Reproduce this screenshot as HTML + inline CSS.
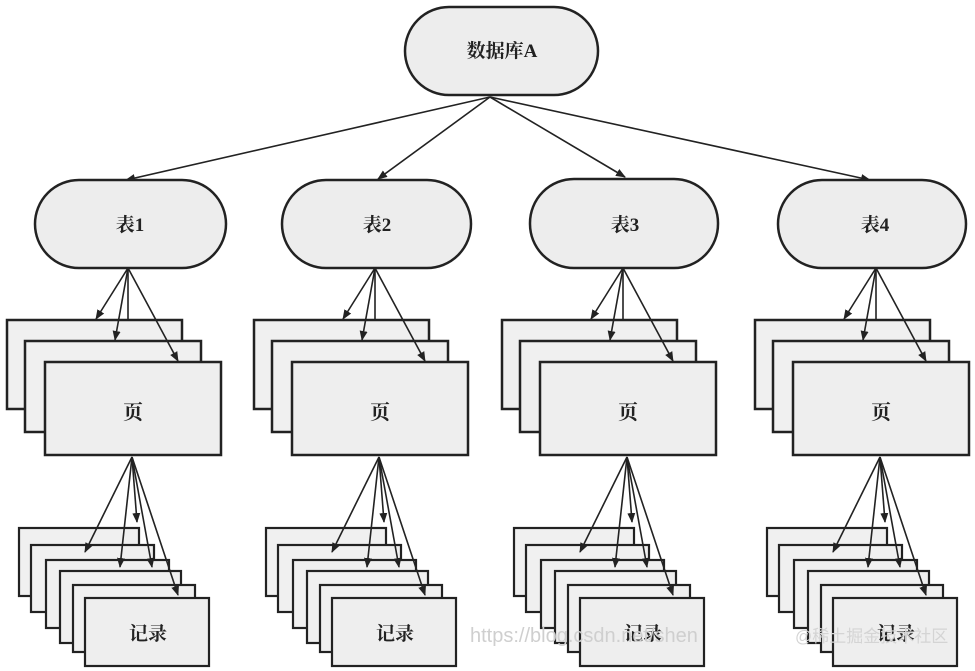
<!DOCTYPE html>
<html><head><meta charset="utf-8"><style>
html,body{margin:0;padding:0;background:#fff;}
svg{display:block;}
text{font-family:"Liberation Serif","Noto Serif CJK SC",serif;font-weight:bold;fill:#222;}
</style></head><body>
<svg width="975" height="671" viewBox="0 0 975 671" xmlns="http://www.w3.org/2000/svg">
<defs>
<marker id="a" markerWidth="10" markerHeight="10" refX="9" refY="5" orient="auto" markerUnits="userSpaceOnUse">
<path d="M0,1 L10,5 L0,9 Z" fill="#222"/></marker>
<g id="grp">
  <rect x="7" y="320" width="175" height="89" fill="#f0f0f0" stroke="#222" stroke-width="2.5"/>
  <rect x="25" y="341" width="176" height="91" fill="#f0f0f0" stroke="#222" stroke-width="2.5"/>
  <rect x="45" y="362" width="176" height="93" fill="#eeeeee" stroke="#222" stroke-width="2.5"/>
  <text x="133" y="419" font-size="20" text-anchor="middle">页</text>
  <g stroke="#222" stroke-width="1.6" fill="none">
    <line x1="128" y1="268" x2="96" y2="319" marker-end="url(#a)"/>
    <line x1="128" y1="268" x2="115" y2="340" marker-end="url(#a)"/>
    <line x1="128" y1="268" x2="128" y2="320"/>
    <line x1="128" y1="268" x2="178" y2="361" marker-end="url(#a)"/>
  </g>
  <rect x="19" y="528" width="120" height="68" fill="#f0f0f0" stroke="#222" stroke-width="2.2"/>
  <rect x="31" y="545" width="123" height="67" fill="#f0f0f0" stroke="#222" stroke-width="2.2"/>
  <rect x="46" y="560" width="123" height="68" fill="#f0f0f0" stroke="#222" stroke-width="2.2"/>
  <rect x="60" y="571" width="121" height="72" fill="#f0f0f0" stroke="#222" stroke-width="2.2"/>
  <rect x="73" y="585" width="122" height="67" fill="#f0f0f0" stroke="#222" stroke-width="2.2"/>
  <rect x="85" y="598" width="124" height="68" fill="#eeeeee" stroke="#222" stroke-width="2.2"/>
  <text x="148" y="640" font-size="19" text-anchor="middle">记录</text>
  <g stroke="#222" stroke-width="1.6" fill="none">
    <line x1="132" y1="457" x2="85" y2="552" marker-end="url(#a)"/>
    <line x1="132" y1="457" x2="120" y2="567" marker-end="url(#a)"/>
    <line x1="132" y1="457" x2="137" y2="522" marker-end="url(#a)"/>
    <line x1="132" y1="457" x2="152" y2="567" marker-end="url(#a)"/>
    <line x1="132" y1="457" x2="178" y2="595" marker-end="url(#a)"/>
  </g>
</g>
</defs>
<rect x="405" y="7" width="193" height="88" rx="44" fill="#ededed" stroke="#222" stroke-width="2.5"/>
<text x="502" y="57" font-size="19" text-anchor="middle">数据库A</text>
<g stroke="#222" stroke-width="1.6">
  <line x1="490" y1="97" x2="126" y2="180" marker-end="url(#a)"/>
  <line x1="490" y1="97" x2="378" y2="179" marker-end="url(#a)"/>
  <line x1="490" y1="97" x2="625" y2="177" marker-end="url(#a)"/>
  <line x1="490" y1="97" x2="870" y2="180" marker-end="url(#a)"/>
</g>
<use href="#grp" x="0"/>
<use href="#grp" x="247"/>
<use href="#grp" x="495"/>
<use href="#grp" x="748"/>
<g fill="#ededed" stroke="#222" stroke-width="2.5">
  <rect x="35" y="180" width="191" height="88" rx="44"/>
  <rect x="282" y="180" width="189" height="88" rx="44"/>
  <rect x="530" y="179" width="188" height="89" rx="44"/>
  <rect x="778" y="180" width="188" height="88" rx="44"/>
</g>
<text x="130" y="231" font-size="19" text-anchor="middle">表1</text>
<text x="377" y="231" font-size="19" text-anchor="middle">表2</text>
<text x="625" y="231" font-size="19" text-anchor="middle">表3</text>
<text x="875" y="231" font-size="19" text-anchor="middle">表4</text>
<text x="470" y="642" font-size="20" style="font-family:'Liberation Sans','Noto Sans CJK SC',sans-serif;fill:#cfcfcf;font-weight:normal">https://blog.csdn.net/shen</text>
<text x="795" y="642" font-size="17" style="font-family:'Liberation Sans','Noto Sans CJK SC',sans-serif;fill:#d4d4d4;font-weight:normal">@稀土掘金技术社区</text>
</svg>
</body></html>
